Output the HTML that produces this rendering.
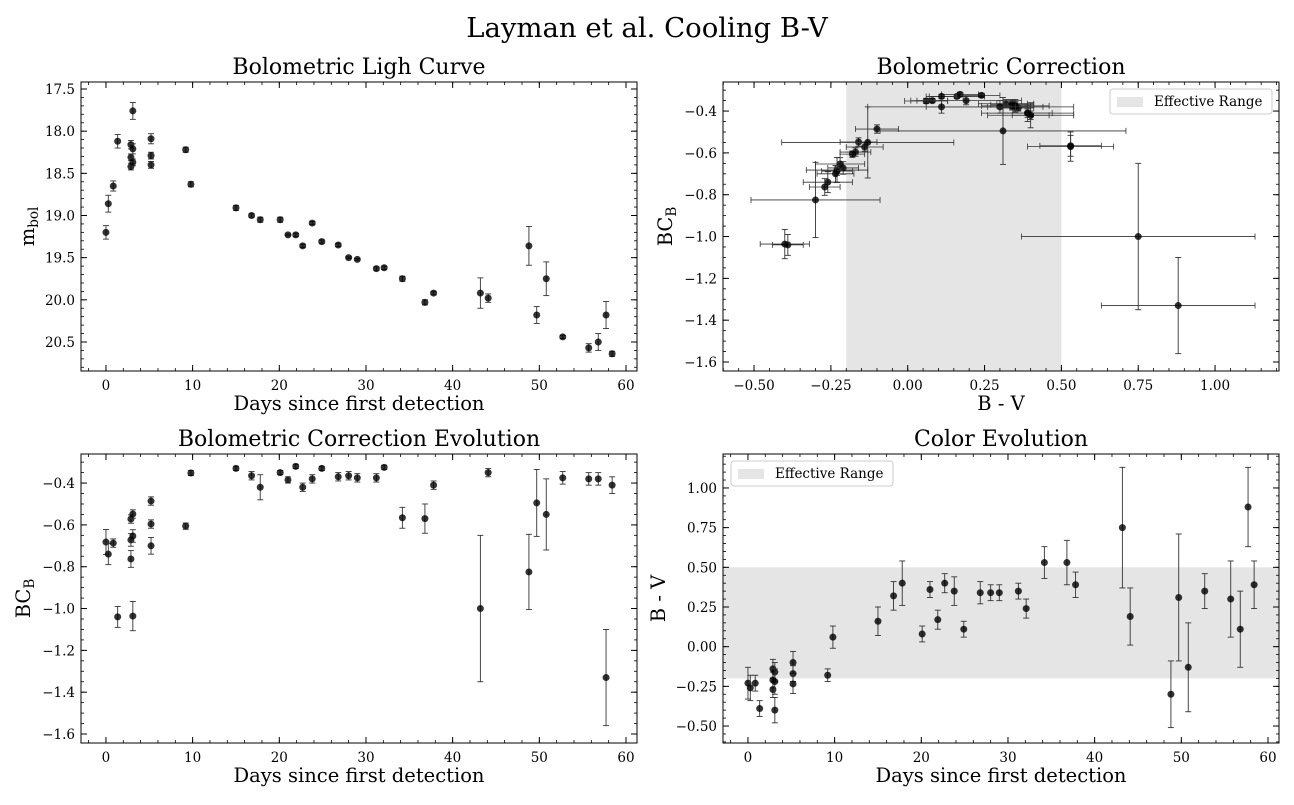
<!DOCTYPE html>
<html><head><meta charset="utf-8">
<style>
body{margin:0;background:#fff;}
svg text{font-family:"DejaVu Serif","Liberation Serif",serif;fill:#000;}
</style></head>
<body>
<svg id="fig" width="1294" height="800" xmlns="http://www.w3.org/2000/svg">
<rect width="1294" height="800" fill="#fff"/>
<text x="647" y="37" font-size="27.5" text-anchor="middle">Layman et al. Cooling B-V</text>
</svg>
<script>
const days=[0,0.27,0.84,1.35,2.88,2.88,2.88,3.1,3.1,3.1,5.2,5.2,5.2,9.2,9.8,15,16.8,17.8,20.1,21,21.9,22.7,23.8,24.9,26.8,28,29,31.2,32.1,34.2,36.8,37.8,43.2,44.1,48.8,49.7,50.8,52.7,55.7,56.8,57.7,58.4];
const mbol=[19.20,18.86,18.65,18.12,18.16,18.31,18.42,17.76,18.21,18.37,18.09,18.29,18.40,18.22,18.63,18.91,19.0,19.05,19.05,19.23,19.23,19.36,19.09,19.31,19.35,19.5,19.52,19.63,19.62,19.75,20.03,19.92,19.92,19.98,19.36,20.18,19.75,20.44,20.57,20.50,20.18,20.64];
const mbolErr=[0.08,0.1,0.06,0.08,0.05,0.04,0.04,0.1,0.06,0.04,0.06,0.04,0.04,0.03,0.03,0.03,0.02,0.03,0.03,0.01,0.02,0.02,0.02,0.02,0.02,0.01,0.01,0.02,0.02,0.03,0.03,0.02,0.18,0.05,0.23,0.1,0.2,0.02,0.05,0.1,0.16,0.03];
const bc=[-0.682,-0.74,-0.687,-1.04,-0.572,-0.672,-0.763,-0.548,-0.653,-1.036,-0.486,-0.596,-0.70,-0.606,-0.352,-0.33,-0.365,-0.42,-0.35,-0.385,-0.32,-0.42,-0.38,-0.33,-0.37,-0.365,-0.375,-0.375,-0.325,-0.566,-0.57,-0.41,-1.0,-0.35,-0.825,-0.495,-0.55,-0.375,-0.38,-0.38,-1.33,-0.41];
const bcErr=[0.06,0.05,0.02,0.05,0.02,0.03,0.04,0.02,0.03,0.07,0.02,0.02,0.04,0.015,0.012,0.01,0.02,0.06,0.01,0.015,0.01,0.02,0.02,0.01,0.02,0.02,0.02,0.02,0.01,0.05,0.07,0.02,0.35,0.02,0.18,0.16,0.17,0.03,0.03,0.03,0.23,0.04];
const bv=[-0.23,-0.26,-0.23,-0.39,-0.14,-0.21,-0.27,-0.16,-0.22,-0.40,-0.10,-0.17,-0.235,-0.18,0.06,0.16,0.32,0.40,0.08,0.36,0.17,0.40,0.35,0.11,0.34,0.34,0.34,0.35,0.24,0.53,0.53,0.39,0.75,0.19,-0.30,0.31,-0.13,0.35,0.30,0.11,0.88,0.39];
const bvErr=[0.1,0.08,0.05,0.05,0.06,0.05,0.05,0.06,0.08,0.08,0.07,0.05,0.06,0.04,0.07,0.09,0.09,0.14,0.05,0.05,0.06,0.06,0.09,0.05,0.07,0.05,0.05,0.05,0.06,0.10,0.14,0.08,0.38,0.18,0.21,0.40,0.28,0.11,0.24,0.24,0.25,0.15];
const dayTicks=[0,10,20,30,40,50,60];
const mbolTicks=[17.5,18.0,18.5,19.0,19.5,20.0,20.5];
const bcTicks=[-1.6,-1.4,-1.2,-1.0,-0.8,-0.6,-0.4];
const bvTicks=[-0.5,-0.25,0,0.25,0.5,0.75,1.0];
const colorTicks=[-0.5,-0.25,0,0.25,0.5,0.75,1.0];
const effRange=[-0.2,0.5];

const NS="http://www.w3.org/2000/svg";
const fig=document.getElementById('fig');
function mk(tag,attrs,parent){const e=document.createElementNS(NS,tag);for(const k in attrs)e.setAttribute(k,attrs[k]);(parent||fig).appendChild(e);return e;}
function fmt(v,d){const s=Math.abs(v).toFixed(d);return (v<-1e-9?'\u2212':'')+s;}

function panel(o){
  const g=mk('g',{});
  
  
  const inv=!!o.invert;
  const X=v=>o.x0+(v-o.xlim[0])/(o.xlim[1]-o.xlim[0])*(o.x1-o.x0);
  const Y=v=>{const f=(v-o.ylim[0])/(o.ylim[1]-o.ylim[0]);return inv?o.y0+f*(o.y1-o.y0):o.y1-f*(o.y1-o.y0);};
  if(o.vband){const r=mk('rect',{x:X(o.vband[0]),y:o.y0,width:X(o.vband[1])-X(o.vband[0]),height:o.y1-o.y0,fill:'#e5e5e5'},g);}
  if(o.hband){const r=mk('rect',{x:o.x0,y:Y(o.hband[1]),width:o.x1-o.x0,height:Y(o.hband[0])-Y(o.hband[1]),fill:'#e5e5e5'},g);}
  const n0=Math.ceil(o.xlim[0]/o.xminor-1e-6),n1=Math.floor(o.xlim[1]/o.xminor+1e-6);
  for(let k=n0;k<=n1;k++){const px=X(k*o.xminor);mk('line',{x1:px,x2:px,y1:o.y1,y2:o.y1-3,stroke:'#000','stroke-width':0.8},g);mk('line',{x1:px,x2:px,y1:o.y0,y2:o.y0+3,stroke:'#000','stroke-width':0.8},g);}
  const m0=Math.ceil(o.ylim[0]/o.yminor-1e-6),m1=Math.floor(o.ylim[1]/o.yminor+1e-6);
  for(let k=m0;k<=m1;k++){const py=Y(k*o.yminor);mk('line',{x1:o.x0,x2:o.x0+3,y1:py,y2:py,stroke:'#000','stroke-width':0.8},g);mk('line',{x1:o.x1,x2:o.x1-3,y1:py,y2:py,stroke:'#000','stroke-width':0.8},g);}
  o.xticks.forEach(v=>{const px=X(v);mk('line',{x1:px,x2:px,y1:o.y1,y2:o.y1-6,stroke:'#000','stroke-width':1},g);mk('line',{x1:px,x2:px,y1:o.y0,y2:o.y0+6,stroke:'#000','stroke-width':1},g);
    const t=mk('text',{x:px,y:o.y1+19,'font-size':13.5,'text-anchor':'middle'},g);t.textContent=fmt(v,o.xdec);});
  o.yticks.forEach(v=>{const py=Y(v);mk('line',{x1:o.x0,x2:o.x0+6,y1:py,y2:py,stroke:'#000','stroke-width':1},g);mk('line',{x1:o.x1,x2:o.x1-6,y1:py,y2:py,stroke:'#000','stroke-width':1},g);
    const t=mk('text',{x:o.x0-6,y:py+5,'font-size':13.5,'text-anchor':'end'},g);t.textContent=fmt(v,o.ydec);});
  o.xs.forEach((xv,i)=>{
    const px=X(xv),py=Y(o.ys[i]);
    const pg=mk('g',{},g);
    
    
    if(o.yerr){const a=Y(o.ys[i]+o.yerr[i]),b=Y(o.ys[i]-o.yerr[i]);
      mk('line',{x1:px,x2:px,y1:a,y2:b,stroke:'#333','stroke-width':0.9},pg);
      mk('line',{x1:px-3,x2:px+3,y1:a,y2:a,stroke:'#333','stroke-width':0.9},pg);
      mk('line',{x1:px-3,x2:px+3,y1:b,y2:b,stroke:'#333','stroke-width':0.9},pg);}
    if(o.xerr){const a=X(xv-o.xerr[i]),b=X(xv+o.xerr[i]);
      mk('line',{x1:a,x2:b,y1:py,y2:py,stroke:'#333','stroke-width':0.8},pg);
      mk('line',{x1:a,x2:a,y1:py-3,y2:py+3,stroke:'#333','stroke-width':0.8},pg);
      mk('line',{x1:b,x2:b,y1:py-3,y2:py+3,stroke:'#333','stroke-width':0.8},pg);}
    mk('circle',{cx:px,cy:py,r:3.5,fill:'#000','fill-opacity':0.8},pg);
  });
  mk('rect',{x:o.x0,y:o.y0,width:o.x1-o.x0,height:o.y1-o.y0,fill:'none',stroke:'#000','stroke-width':1},g);
  const tt=mk('text',{x:(o.x0+o.x1)/2,y:o.y0-8,'font-size':22,'text-anchor':'middle'},g);tt.textContent=o.title;
  const xl=mk('text',{x:(o.x0+o.x1)/2,y:o.y1+39,'font-size':19.5,'text-anchor':'middle'},g);xl.textContent=o.xlabel;
  const yl=mk('text',{x:0,y:0,'font-size':19.5,'text-anchor':'middle',transform:`translate(${o.ylx},${(o.y0+o.y1)/2}) rotate(-90)`},g);
  
  yl.innerHTML=o.ylabel;
  if(o.legend){const lg=mk('g',{},g);
    const L=o.legend;mk('rect',{x:L[0],y:L[1],width:162,height:25,rx:3,fill:'#fff','fill-opacity':0.85,stroke:'#ccc'},lg);
    mk('rect',{x:L[0]+7,y:L[1]+8,width:26,height:10,fill:'#e5e5e5'},lg);
    const t=mk('text',{x:L[0]+44,y:L[1]+17,'font-size':13.5},lg);t.textContent='Effective Range';}
}
panel({name:'bolometric-light-curve-panel',x0:81,x1:637,y0:82,y1:371,xlim:[-2.88,61.27],ylim:[17.417,20.844],invert:true,
  xs:days,ys:mbol,yerr:mbolErr,xticks:dayTicks,yticks:mbolTicks,xdec:0,ydec:1,xminor:2,yminor:0.1,title:'Bolometric Ligh Curve',xlabel:'Days since first detection',ylx:34,ylabel:'m<tspan font-size="13.5" dy="4">bol</tspan>'});
panel({name:'bolometric-correction-panel',x0:723,x1:1279,y0:82,y1:371,xlim:[-0.601,1.208],ylim:[-1.643,-0.261],
  xs:bv,ys:bc,yerr:bcErr,xerr:bvErr,vband:effRange,xticks:bvTicks,yticks:bcTicks,xdec:2,ydec:1,xminor:0.05,yminor:0.05,
  title:'Bolometric Correction',xlabel:'B - V',ylx:672,ylabel:'BC<tspan font-size="13.5" dy="4">B</tspan>',legend:[1110,89]});
panel({name:'bc-evolution-panel',x0:81,x1:637,y0:454,y1:743,xlim:[-2.88,61.27],ylim:[-1.643,-0.261],
  xs:days,ys:bc,yerr:bcErr,xticks:dayTicks,yticks:bcTicks,xdec:0,ydec:1,xminor:2,yminor:0.05,
  title:'Bolometric Correction Evolution',xlabel:'Days since first detection',ylx:30,ylabel:'BC<tspan font-size="13.5" dy="4">B</tspan>'});
panel({name:'color-evolution-panel',x0:723,x1:1279,y0:454,y1:743,xlim:[-2.88,61.27],ylim:[-0.607,1.214],
  xs:days,ys:bv,yerr:bvErr,hband:effRange,xticks:dayTicks,yticks:colorTicks,xdec:0,ydec:2,xminor:2,yminor:0.05,
  title:'Color Evolution',xlabel:'Days since first detection',ylx:665,ylabel:'B - V',legend:[731,461]});
</script>
</body></html>
